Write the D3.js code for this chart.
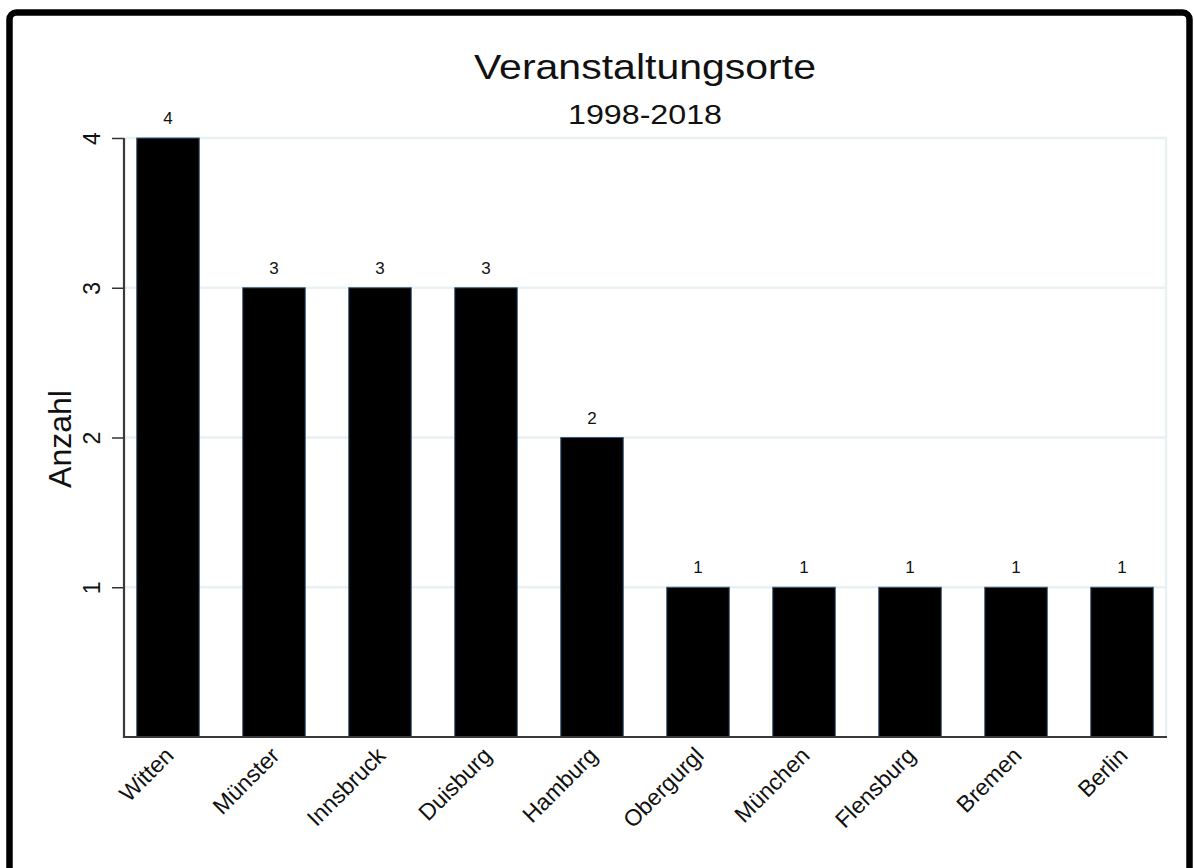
<!DOCTYPE html>
<html>
<head>
<meta charset="utf-8">
<script src="https://cdn.jsdelivr.net/npm/d3@7"></script>
<style>
  html, body { margin: 0; padding: 0; background: #fff; }
  svg { display: block; font-family: "Liberation Sans", Arial, sans-serif; }
</style>
</head>
<body>
<svg id="chart" width="1194" height="868"></svg>
<script>
const categories = ["Witten", "Münster", "Innsbruck", "Duisburg", "Hamburg", "Obergurgl", "München", "Flensburg", "Bremen", "Berlin"];
const values = [4, 3, 3, 3, 2, 1, 1, 1, 1, 1];
const yTicks = [1, 2, 3, 4];
const titleText = "Veranstaltungsorte";
const subtitleText = "1998-2018";
const yAxisTitle = "Anzahl";

const FONT = "'Liberation Sans', Arial, sans-serif";
const svg = d3.select("#chart");
const plot = { left: 124, right: 1166, top: 138, bottom: 737 };

// outer frame
svg.append("rect")
  .attr("x", 9.5).attr("y", 12.5)
  .attr("width", 1180).attr("height", 900)
  .attr("rx", 7).attr("ry", 7)
  .attr("fill", "#fff").attr("stroke", "#000").attr("stroke-width", 6.5);

const x = d3.scaleBand()
  .domain(categories)
  .range([plot.left, plot.right])
  .paddingInner(0.41)
  .paddingOuter(0.12);

const y = d3.scaleLinear()
  .domain([0, 4])
  .range([plot.bottom, plot.top]);

// gridlines
const gridColor = "#e9f1f3";
svg.append("g").selectAll("line")
  .data(yTicks)
  .join("line")
  .attr("x1", plot.left).attr("x2", plot.right)
  .attr("y1", d => y(d)).attr("y2", d => y(d))
  .attr("stroke", gridColor).attr("stroke-width", 2.5);

// right light border
svg.append("line")
  .attr("x1", plot.right).attr("x2", plot.right)
  .attr("y1", y(4) - 1.25).attr("y2", plot.bottom)
  .attr("stroke", gridColor).attr("stroke-width", 2.5);

// bars
svg.append("g").selectAll("rect")
  .data(categories)
  .join("rect")
  .attr("x", d => x(d))
  .attr("y", (d, i) => y(values[i]))
  .attr("width", x.bandwidth())
  .attr("height", (d, i) => y(0) - y(values[i]))
  .attr("fill", "#000")
  .attr("stroke", "#3e5c7a")
  .attr("stroke-width", 1);

// value labels
svg.append("g").selectAll("text")
  .data(categories)
  .join("text")
  .attr("x", d => x(d) + x.bandwidth() / 2)
  .attr("y", (d, i) => y(values[i]) - 14)
  .attr("text-anchor", "middle")
  .style("font-size", "17px")
  .style("font-family", FONT)
  .attr("fill", "#111")
  .text((d, i) => values[i]);

// y axis
const yAxis = d3.axisLeft(y).tickValues(yTicks).tickSize(12).tickPadding(0).tickFormat(d3.format("d"));
const yg = svg.append("g").attr("transform", `translate(${plot.left},0)`).call(yAxis);
yg.select(".domain").remove();
yg.selectAll(".tick line").attr("stroke", "#333").attr("stroke-width", 1.5);
yg.selectAll(".tick text")
  .style("font-size", "23px")
  .style("font-family", FONT)
  .attr("fill", "#111")
  .attr("text-anchor", "middle")
  .attr("transform", "translate(-24,0) rotate(-90)")
  .attr("x", 0).attr("y", 0).attr("dy", 0);

svg.append("line")
  .attr("x1", plot.left).attr("x2", plot.left)
  .attr("y1", plot.top).attr("y2", plot.bottom + 1)
  .attr("stroke", "#3a3a3a").attr("stroke-width", 2.2);

// x axis
const xAxis = d3.axisBottom(x).tickSize(0).tickPadding(0);
const xg = svg.append("g").attr("transform", `translate(0,${plot.bottom})`).call(xAxis);
xg.select(".domain").remove();
xg.selectAll(".tick text")
  .style("font-size", "23px")
  .style("font-family", FONT)
  .attr("fill", "#111")
  .attr("text-anchor", "end")
  .attr("y", 0).attr("dy", 0)
  .attr("transform", "translate(7,20) rotate(-45)");

svg.append("line")
  .attr("x1", plot.left - 1).attr("x2", plot.right + 1)
  .attr("y1", plot.bottom).attr("y2", plot.bottom)
  .attr("stroke", "#3a3a3a").attr("stroke-width", 2.2);

// y axis title
svg.append("text")
  .attr("transform", `translate(71,439) rotate(-90)`)
  .attr("text-anchor", "middle")
  .style("font-size", "32px")
  .style("font-family", FONT)
  .attr("fill", "#111")
  .text(yAxisTitle);

// titles
const cx = (plot.left + plot.right) / 2;
svg.append("text")
  .attr("x", cx).attr("y", 79)
  .attr("text-anchor", "middle")
  .style("font-size", "35px")
  .style("font-family", FONT)
  .attr("textLength", 342).attr("lengthAdjust", "spacingAndGlyphs")
  .attr("fill", "#111")
  .text(titleText);
svg.append("text")
  .attr("x", cx).attr("y", 124)
  .attr("text-anchor", "middle")
  .style("font-size", "28px")
  .style("font-family", FONT)
  .attr("textLength", 154).attr("lengthAdjust", "spacingAndGlyphs")
  .attr("fill", "#111")
  .text(subtitleText);
</script>
</body>
</html>
